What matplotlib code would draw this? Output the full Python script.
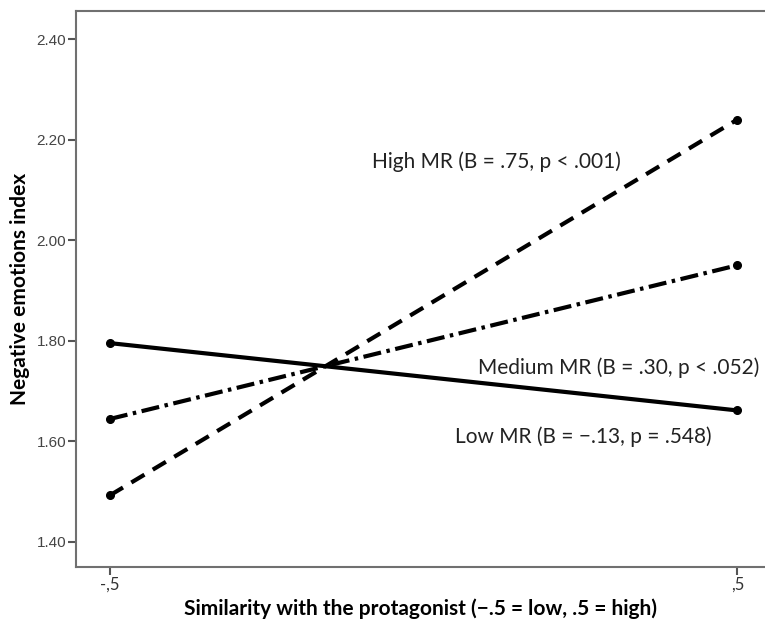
import matplotlib
matplotlib.use("Agg")
import matplotlib.pyplot as plt

# similarity levels (x) and predicted negative emotions per moderator level
similarity = [-0.5, 0.5]
high_mr = [1.492, 2.240]
medium_mr = [1.644, 1.950]
low_mr = [1.795, 1.661]

labels = {
    "high": "High MR (B = .75, p < .001)",
    "medium": "Medium MR (B = .30, p < .052)",
    "low": "Low MR (B = \u2212.13, p = .548)",
}
y_ticks = [1.40, 1.60, 1.80, 2.00, 2.20, 2.40]
x_tick_labels = ["-,5", ",5"]

plt.rcParams["lines.scale_dashes"] = False

W, H = 765, 625
fig = plt.figure(figsize=(W / 100, H / 100), dpi=100)
ax = fig.add_axes([76 / W, 1 - 566.7 / H, 1 - 76 / W, (566.7 - 11) / H])

ax.plot(similarity, high_mr, color="black", lw=3, marker="o", ms=5.5,
        dashes=(11, 7))
ax.plot(similarity, medium_mr, color="black", lw=3, marker="o", ms=5.5,
        dashes=(13, 4, 2.5, 4))
ax.plot(similarity, low_mr, color="black", lw=3, marker="o", ms=5.5)

# annotation positions in pixels from the top-left corner
txt = dict(family="Lato", fontsize=15, color="#222222", va="center")
fig.text(372 / W, 1 - 162 / H, labels["high"], **txt)
fig.text(478 / W, 1 - 368 / H, labels["medium"], **txt)
fig.text(455 / W, 1 - 437 / H, labels["low"], **txt)

ax.set_xlim(-0.554, 0.544)
ax.set_ylim(1.350, 2.456)
ax.set_xticks(similarity)
ax.set_xticklabels(x_tick_labels, family="Lato", fontsize=12, color="#333333")
ax.set_yticks(y_ticks)
ax.set_yticklabels([f"{v:.2f}" for v in y_ticks], family="Liberation Sans",
                   fontsize=11, color="#444444")

for s in ["left", "top", "bottom"]:
    ax.spines[s].set_color("#707070")
    ax.spines[s].set_linewidth(1.5)
ax.spines["right"].set_visible(False)
ax.tick_params(axis="both", direction="out", length=5.5, width=1.5, color="#555555", pad=1.5)

ax.set_xlabel("Similarity with the protagonist (\u2212.5 = low, .5 = high)",
              family="Lato", fontsize=15, fontweight="bold", labelpad=4)
ax.set_ylabel("Negative emotions index", family="Lato", fontsize=15,
              fontweight="bold", labelpad=5)

fig.savefig("out.png", dpi=100)
